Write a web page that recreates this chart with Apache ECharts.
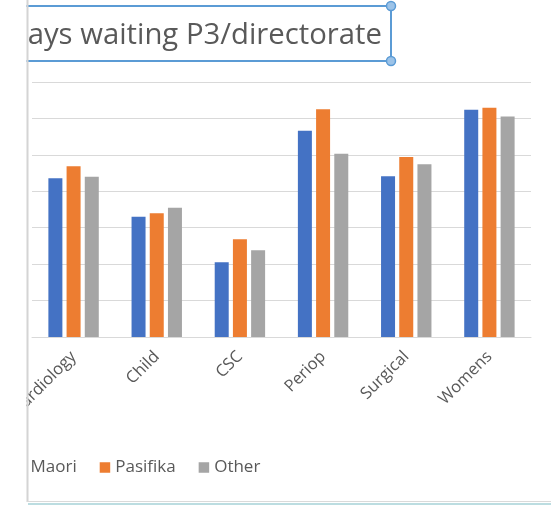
<!DOCTYPE html>
<html>
<head>
<meta charset="utf-8">
<script src="https://cdn.jsdelivr.net/npm/echarts@6/dist/echarts.min.js"></script>
<style>
  html, body { margin: 0; padding: 0; background: #fff; }
  #chart { width: 551px; height: 505px; }
</style>
</head>
<body>
<div id="chart"></div>
<script>
// directorates (first one is cut off by the window edge in the screenshot)
const categories = ['Cardiology', 'Child', 'CSC', 'Periop', 'Surgical', 'Womens']
const maori = [43.6, 33.0, 20.5, 56.6, 44.1, 62.4]
const pasifika = [46.9, 34.0, 26.8, 62.5, 49.4, 62.9]
const other = [44.0, 35.5, 23.8, 50.3, 47.4, 60.5]

const titleText = 'days waiting P3/directorate'
const textColor = '#595959'
const font = '"Open Sans", sans-serif'

const chart = echarts.init(document.getElementById('chart'))

const bar = (name, data, color) => ({
  name,
  type: 'bar',
  data,
  barWidth: 14,
  barGap: '30%',
  itemStyle: { color },
  emphasis: { disabled: true }
})

chart.setOption({
  animation: false,
  textStyle: { fontFamily: font },
  grid: { left: 32, right: 20, top: 82, bottom: 168, containLabel: false },
  legend: {
    left: 10,
    top: 454,
    itemWidth: 10.5,
    itemHeight: 10.5,
    itemGap: 23,
    icon: 'rect',
    textStyle: { color: textColor, fontSize: 17, fontFamily: font },
    data: ['Maori', 'Pasifika', 'Other']
  },
  xAxis: {
    type: 'category',
    data: categories,
    axisTick: { show: false },
    axisLine: { lineStyle: { color: '#d9d9d9', width: 1 } },
    axisLabel: {
      rotate: 45,
      margin: 17,
      interval: 0,
      color: textColor,
      fontSize: 16.5,
      fontFamily: font
    }
  },
  yAxis: {
    type: 'value',
    min: 0,
    max: 70,
    interval: 10,
    axisLabel: { show: false },
    axisLine: { show: false },
    axisTick: { show: false },
    splitLine: { lineStyle: { color: '#d9d9d9', width: 1 } }
  },
  series: [
    bar('Maori', maori, '#4472c4'),
    bar('Pasifika', pasifika, '#ed7d31'),
    bar('Other', other, '#a5a5a5')
  ],
  graphic: [
    // selected title box
    {
      type: 'text',
      z: 10,
      style: {
        text: titleText,
        x: 382,
        y: 36,
        textAlign: 'right',
        textVerticalAlign: 'middle',
        fill: textColor,
        font: '29.3px ' + font
      }
    },
    {
      type: 'rect',
      z: 11,
      shape: { x: 0, y: 6, width: 391, height: 55 },
      style: { fill: 'none', stroke: '#5b9bd5', lineWidth: 2 }
    },
    {
      type: 'circle',
      z: 12,
      shape: { cx: 391, cy: 6, r: 4.5 },
      style: { fill: '#9cc3e8', stroke: '#5b9bd5', lineWidth: 1.5 }
    },
    {
      type: 'circle',
      z: 12,
      shape: { cx: 391, cy: 61, r: 4.5 },
      style: { fill: '#9cc3e8', stroke: '#5b9bd5', lineWidth: 1.5 }
    },
    // window edge on the left, sheet cells at the bottom
    {
      type: 'rect',
      z: 20,
      shape: { x: 0, y: 0, width: 26.5, height: 505 },
      style: { fill: '#ffffff' }
    },
    {
      type: 'line',
      z: 21,
      shape: { x1: 27.5, y1: 0, x2: 27.5, y2: 502 },
      style: { stroke: '#d4d4d4', lineWidth: 2 }
    },
    {
      type: 'line',
      z: 21,
      shape: { x1: 27, y1: 501.5, x2: 551, y2: 501.5 },
      style: { stroke: '#dadada', lineWidth: 1 }
    },
    {
      type: 'rect',
      z: 21,
      shape: { x: 28, y: 503, width: 523, height: 2 },
      style: { fill: '#bcdde1' }
    }
  ]
})
</script>
</body>
</html>
